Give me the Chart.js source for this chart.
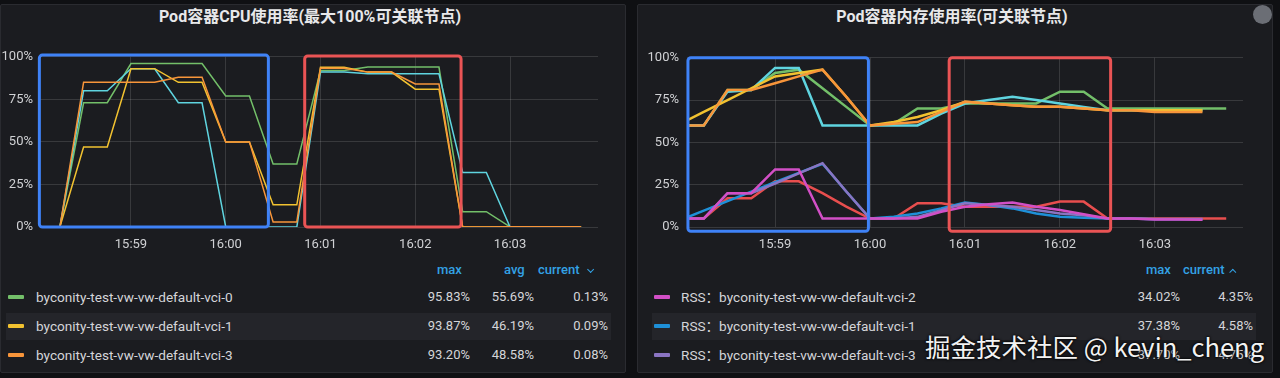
<!DOCTYPE html>
<html>
<head>
<meta charset="utf-8">
<script src="https://cdn.jsdelivr.net/npm/chart.js@4.4.0/dist/chart.umd.min.js"></script>
<style>
body { margin:0; width:1280px; height:378px; background:#0f1013; overflow:hidden; position:relative;
       font-family: Roboto, "Noto Sans CJK SC", sans-serif; color:#d4d5d9; }
.panel { position:absolute; top:4px; height:369px; background:#1b1c20; border:1px solid #2a2b30; box-sizing:border-box; border-radius:2px; }
.title { position:absolute; top:6px; text-align:center; font-weight:700; font-size:16px; color:#e8e8ea;
         font-family: Roboto, "Noto Sans CJK SC", sans-serif; line-height:22px; }
canvas { position:absolute; }
.row-hl { position:absolute; height:27px; background:#24252a; }
.sw { position:absolute; width:16px; height:4px; border-radius:1px; }
.txt { position:absolute; font-size:13.6px; line-height:20px; white-space:nowrap; }
.num { position:absolute; font-size:13px; line-height:20px; white-space:nowrap; text-align:right; }
.hdr { position:absolute; font-size:13px; line-height:20px; color:#33a2e5; font-weight:500; white-space:nowrap; }
.chev { display:inline-block; width:4px; height:4px; border-right:1.5px solid #33a2e5; border-bottom:1.5px solid #33a2e5; margin-left:6px; }
.wm { position:absolute; left:925px; top:327px; font-size:25.5px; color:#f2f2f2; white-space:nowrap;
      font-family: "Noto Sans CJK SC", sans-serif; text-shadow:0 0 3px #000, 0 0 2px #000; }
.icon { position:absolute; left:1253px; top:5px; width:19px; height:19px; border-radius:50%; background:#6b6e75; }
</style>
</head>
<body>
<div class="panel" style="left:0;width:626px"></div>
<div class="panel" style="left:637px;width:636px"></div>
<div class="title" style="left:0;width:620px">Pod容器CPU使用率(最大100%可关联节点)</div>
<div class="title" style="left:637px;width:630px">Pod容器内存使用率(可关联节点)</div>
<div class="icon"></div>
<canvas id="cpu" width="620" height="218" style="left:0;top:42px"></canvas>
<canvas id="mem" width="625" height="218" style="left:640px;top:42px"></canvas>
<div id="legends"></div>
<div class="wm">掘金技术社区 @ kevin_cheng</div>
<script>
// temps (toutes les 15s)
const cpuTimes = ['15:58:15','15:58:30','15:58:45','15:59:00','15:59:15','15:59:30','15:59:45','16:00:00',
  '16:00:15','16:00:30','16:00:45','16:01:00','16:01:15','16:01:30','16:01:45','16:02:00','16:02:15',
  '16:02:30','16:02:45','16:03:00','16:03:15','16:03:30','16:03:45'];
const memTimes = ['15:58:00'].concat(cpuTimes);
const xTickLabels = ['15:59', '16:00', '16:01', '16:02', '16:03'];
const yTickValues = [0, 25, 50, 75, 100];

// CPU (%)
const cpuVci0 = [0,73,73,96,96,96,96,77,77,37,37,92,92,94,94,94,94,9,9,0.1,0.1,0.1,0.13];
const cpuVci1 = [0,47,47,93,93,85,85,50,50,13,13,93.9,93.9,91,91,81,81,0,0,0.1,0.1,0.1,0.09];
const cpuVci2 = [0,80,80,93,93,73,73,0,0,0,0,91,91,90,90,90,90,32,32,0,0,0,0];
const cpuVci3 = [0,85,85,85,85,88,88,50,50,3,3,93.2,93.2,91,91,84,84,0,0,0.1,0.1,0.1,0.08];

// mémoire (%)
const memWsVci0 = [60,60,81,81,91,93,82,71,60,61,70,70,73,73,73,73,80,80,70,70,70,70,70,70];
const memWsVci1 = [61,68,75,82,89,91,93,77,60,62,65,69,74,73,72,71,71,70,69,69,69,69,69,null];
const memWsVci2 = [60,60,80,81,94,94,60,60,60,60,60,67,73,75,77,75,73,71,69,69,69,69,69,null];
const memWsVci3 = [60,60,81,81,85,89,93,77,60,61,62,68,74,73,72,71,71,70,69,69,68,68,68,null];
const memRssVci0 = [5,5,17,17,27,27,20,12,5,5,14,14,12,12,12,12,15,15,5,5,5,5,5,5];
const memRssVci1 = [4.1,9.7,15.3,20.9,26.5,32,37.38,21,5,6,8,11,14.5,13,11,8,6,5.5,5,5,4.6,4.6,4.58,null];
const memRssVci2 = [5,5,20,20,34.02,34,5,5,5,5,5,9,12,13.5,14.5,12,10,7.5,5,5,4.4,4.4,4.35,null];
const memRssVci3 = [5,5,20,20,25.7,31.7,37.7,21,5,5,6,10,14,13,12,10,8,7,5,5,4.8,4.8,4.75,null];

// légendes
const cpuNames = ['byconity-test-vw-vw-default-vci-0', 'byconity-test-vw-vw-default-vci-1', 'byconity-test-vw-vw-default-vci-3'];
const cpuMax = ['95.83%', '93.87%', '93.20%'];
const cpuAvg = ['55.69%', '46.19%', '48.58%'];
const cpuCurrent = ['0.13%', '0.09%', '0.08%'];
const memNames = ['RSS：byconity-test-vw-vw-default-vci-2', 'RSS：byconity-test-vw-vw-default-vci-1', 'RSS：byconity-test-vw-vw-default-vci-3'];
const memMax = ['34.02%', '37.38%', '37.70%'];
const memCurrent = ['4.35%', '4.58%', '4.75%'];

const GREEN = '#73bf69', YELLOW = '#f2c230', CYAN = '#5fd4df', ORANGE = '#f8953a';
const RED = '#e84e4e', PINK = '#d24fc6', BLUE = '#1e90d8', PURPLE = '#8a74c2';

function toSec(t) {
    const p = t.split(':').map(Number);
    return (p[0] * 3600 + p[1] * 60 + (p[2] || 0)) - (15 * 3600 + 58 * 60);
}

// cadres dessinés à la main sur la capture
const boxPlugin = {
    id: 'boxes',
    afterDraw(chart, args, opts) {
        const ctx = chart.ctx, xs = chart.scales.x, ys = chart.scales.y;
        (opts.items || []).forEach(b => {
            const x0 = xs.getPixelForValue(toSec(b.from)), x1 = xs.getPixelForValue(toSec(b.to));
            const y0 = ys.getPixelForValue(b.top), y1 = ys.getPixelForValue(b.bottom);
            ctx.save();
            ctx.strokeStyle = b.color;
            ctx.lineWidth = 3;
            ctx.beginPath();
            ctx.roundRect(x0, y0, x1 - x0, y1 - y0, 3);
            ctx.stroke();
            ctx.restore();
        });
    }
};

Chart.defaults.font.family = 'Roboto, sans-serif';
Chart.defaults.font.size = 13;
Chart.defaults.color = '#d0d1d4';

function makeChart(id, times, series, opt) {
    return new Chart(document.getElementById(id), {
        type: 'line',
        data: {
            datasets: series.map(s => ({
                label: s.label,
                data: times.map((t, i) => ({ x: toSec(t), y: s.data[i] })),
                borderColor: s.color,
                backgroundColor: s.color,
                borderWidth: opt.lineWidth,
                pointRadius: 0,
                tension: 0,
                spanGaps: false
            }))
        },
        options: {
            responsive: false,
            animation: false,
            devicePixelRatio: 1,
            layout: { padding: { top: 6, right: 22, left: 0, bottom: 0 } },
            plugins: { legend: { display: false }, tooltip: { enabled: false }, boxes: { items: opt.boxes } },
            scales: {
                x: {
                    type: 'linear',
                    min: opt.xMin, max: opt.xMax,
                    afterBuildTicks: sc => { sc.ticks = xTickLabels.map(l => ({ value: toSec(l) })); },
                    afterFit: sc => { sc.height = 33; },
                    ticks: { autoSkip: false, maxRotation: 0, padding: 10,
                             callback: v => xTickLabels.find(l => toSec(l) === v) || '' },
                    grid: { color: 'rgba(255,255,255,0.13)', drawTicks: false },
                    border: { display: false }
                },
                y: {
                    min: 0, max: 100,
                    afterBuildTicks: sc => { sc.ticks = yTickValues.map(v => ({ value: v })); },
                    afterFit: sc => { sc.width = opt.yWidth; },
                    ticks: { padding: opt.yPad, callback: v => v + '%' },
                    grid: { color: 'rgba(255,255,255,0.13)', drawTicks: false },
                    border: { display: false }
                }
            }
        },
        plugins: [boxPlugin]
    });
}

var cpuChart = makeChart('cpu', cpuTimes, [
    { label: 'vci-3', data: cpuVci3, color: ORANGE },
    { label: 'vci-1', data: cpuVci1, color: YELLOW },
    { label: 'vci-2', data: cpuVci2, color: CYAN },
    { label: 'vci-0', data: cpuVci0, color: GREEN }
], {
    lineWidth: 1.5, yWidth: 40, yPad: 7, xMin: 2.4, xMax: 355.7,
    boxes: [
        { from: '15:58:02', to: '16:00:27', top: 101, bottom: 0, color: '#3f82f7' },
        { from: '16:00:50', to: '16:02:29', top: 100.5, bottom: 0, color: '#ea5455' }
    ]
});

var memChart = makeChart('mem', memTimes, [
    { label: 'RSS vci-2', data: memRssVci2, color: PINK },
    { label: 'RSS vci-3', data: memRssVci3, color: PURPLE },
    { label: 'RSS vci-1', data: memRssVci1, color: BLUE },
    { label: 'RSS vci-0', data: memRssVci0, color: RED },
    { label: 'WS vci-3', data: memWsVci3, color: ORANGE },
    { label: 'WS vci-1', data: memWsVci1, color: YELLOW },
    { label: 'WS vci-2', data: memWsVci2, color: CYAN },
    { label: 'WS vci-0', data: memWsVci0, color: GREEN }
], {
    lineWidth: 2.5, yWidth: 47, yPad: 8, xMin: 4.4, xMax: 355.6,
    boxes: [
        { from: '15:58:05', to: '15:59:59', top: 100, bottom: -2.5, color: '#3f82f7' },
        { from: '16:00:50', to: '16:02:32', top: 100, bottom: -2.5, color: '#ea5455' }
    ]
});

// légendes HTML (tableau max / avg / current)
function buildLegend(cfg) {
    let html = '';
    html += `<div class="row-hl" style="left:${cfg.hlLeft}px;width:${cfg.hlWidth}px;top:313px"></div>`;
    cfg.headers.forEach(h => {
        html += `<div class="hdr" style="left:${h.left}px;top:260px">${h.text}${h.chev ? `<span class="chev" style="transform:rotate(${h.chev === 'up' ? 225 : 45}deg) translateY(${h.chev === 'up' ? -1 : -3}px)"></span>` : ''}</div>`;
    });
    cfg.names.forEach((n, i) => {
        const y = 297 + i * 29;
        html += `<div class="sw" style="left:${cfg.swLeft}px;top:${y - 2}px;background:${cfg.colors[i]}"></div>`;
        html += `<div class="txt" style="left:${cfg.txtLeft}px;top:${y - 10}px">${n}</div>`;
        cfg.cols.forEach(c => {
            html += `<div class="num" style="left:${c.right - 80}px;width:80px;top:${y - 10}px">${c.values[i]}</div>`;
        });
    });
    return html;
}

document.getElementById('legends').innerHTML =
    buildLegend({
        names: cpuNames, colors: [GREEN, YELLOW, ORANGE], swLeft: 8, txtLeft: 36, hlLeft: 6, hlWidth: 605,
        cols: [{ right: 470, values: cpuMax }, { right: 534, values: cpuAvg }, { right: 608, values: cpuCurrent }],
        headers: [{ text: 'max', left: 437 }, { text: 'avg', left: 504 }, { text: 'current', left: 538, chev: 'down' }]
    }) +
    buildLegend({
        names: memNames, colors: [PINK, BLUE, PURPLE], swLeft: 654, txtLeft: 681, hlLeft: 652, hlWidth: 604,
        cols: [{ right: 1180, values: memMax }, { right: 1253, values: memCurrent }],
        headers: [{ text: 'max', left: 1146 }, { text: 'current', left: 1183, chev: 'up' }]
    });
</script>
</body>
</html>
